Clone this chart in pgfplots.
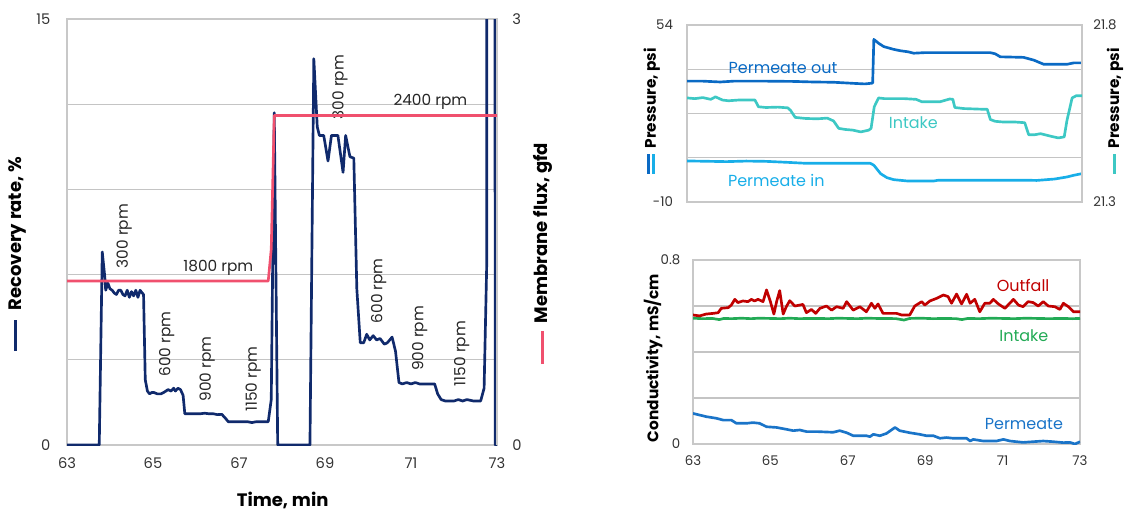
\documentclass[border=0pt]{standalone}
\usepackage{fontspec}
\setmainfont{Poppins}
\usepackage{pgfplots}
\pgfplotsset{compat=1.18}
\definecolor{navy}{HTML}{102A6C}
\definecolor{fluxpink}{HTML}{F0506E}
\definecolor{poutblue}{HTML}{0A6AC4}
\definecolor{tealc}{HTML}{3DC8C4}
\definecolor{pinblue}{HTML}{18AEE8}
\definecolor{outred}{HTML}{C00000}
\definecolor{ingreen}{HTML}{22AA55}
\definecolor{permblue}{HTML}{1A74C8}
\definecolor{gridgray}{HTML}{C4C4C4}
\definecolor{bordergray}{HTML}{C8C8C8}
\definecolor{ticktext}{HTML}{333333}
\definecolor{labeltext}{HTML}{262626}

\pgfplotstableread{
t v
63.00 0
63.75 0
63.82 6.8
63.88 5.9
63.90 5.45
63.95 5.7
64.00 5.5
64.05 5.45
64.10 5.35
64.15 5.3
64.20 5.45
64.25 5.45
64.30 5.3
64.35 5.25
64.40 5.45
64.45 5.2
64.50 5.4
64.55 5.25
64.60 5.45
64.65 5.2
64.70 5.45
64.75 5.35
64.78 5.3
64.82 2.3
64.87 1.9
64.92 1.8
64.97 1.85
65.02 1.85
65.10 1.8
65.18 1.8
65.25 1.85
65.35 1.95
65.42 1.9
65.48 2.0
65.52 1.9
65.58 2.0
65.64 1.95
65.70 1.75
65.74 1.1
65.85 1.1
66.00 1.1
66.10 1.1
66.20 1.12
66.30 1.1
66.40 1.1
66.50 1.07
66.60 1.08
66.68 0.95
66.75 0.82
66.90 0.82
67.05 0.82
67.20 0.82
67.30 0.79
67.40 0.82
67.55 0.82
67.68 0.82
67.75 1.6
67.82 11.7
67.90 0
68.65 0
68.74 13.6
68.82 11.2
68.87 10.9
68.97 10.9
69.07 10.0
69.15 10.9
69.30 10.9
69.42 9.6
69.48 10.9
69.58 10.15
69.67 10.1
69.74 5.5
69.82 3.6
69.90 3.6
69.97 3.9
70.04 3.7
70.12 3.85
70.20 3.7
70.28 3.75
70.38 3.55
70.45 3.6
70.56 3.8
70.64 3.3
70.72 2.2
70.80 2.15
70.90 2.2
71.00 2.15
71.10 2.2
71.20 2.15
71.35 2.15
71.55 2.15
71.62 1.8
71.70 1.6
71.80 1.55
71.90 1.55
72.00 1.55
72.10 1.6
72.20 1.55
72.30 1.6
72.45 1.55
72.62 1.55
72.70 2.0
72.76 6.3
72.80 300
72.96 0
73.00 0
}\recovery

\pgfplotstableread{
t v
63.00 1.155
67.68 1.155
67.75 1.38
67.82 2.32
73.00 2.32
}\flux

\pgfplotstableread{
t v
63.00 33.7
63.40 33.7
63.84 33.4
64.18 33.7
65.00 33.7
65.70 33.6
66.20 33.4
66.71 33.3
67.22 32.9
67.50 32.7
67.64 32.9
67.70 33.0
67.73 48.8
67.85 47.4
67.98 46.2
68.23 45.2
68.40 44.7
68.60 44.3
68.74 43.8
69.00 44.0
70.00 44.0
70.68 44.0
70.80 43.6
70.93 42.5
71.52 42.3
71.78 41.3
72.03 39.8
72.62 39.8
72.79 40.3
73.00 40.3
}\poutdata

\pgfplotstableread{
t v
63.00 21.594
63.20 21.592
63.40 21.595
63.60 21.590
63.72 21.597
63.90 21.588
64.05 21.586
64.30 21.588
64.60 21.588
64.72 21.588
64.81 21.569
65.00 21.567
65.30 21.568
65.55 21.566
65.62 21.559
65.74 21.539
66.00 21.536
66.30 21.535
66.55 21.537
66.71 21.529
66.84 21.508
67.00 21.505
67.20 21.503
67.40 21.498
67.60 21.503
67.66 21.508
67.74 21.569
67.85 21.594
68.00 21.592
68.50 21.592
68.80 21.590
68.95 21.583
69.40 21.583
69.65 21.591
69.73 21.590
69.78 21.567
70.00 21.564
70.50 21.562
70.60 21.562
70.68 21.533
70.80 21.528
71.00 21.526
71.30 21.526
71.55 21.524
71.65 21.490
71.80 21.490
71.95 21.493
72.20 21.486
72.40 21.481
72.55 21.484
72.62 21.531
72.75 21.594
72.85 21.600
73.00 21.600
}\intakep

\pgfplotstableread{
t v
63.00 4.85
64.00 4.6
64.50 4.8
65.00 4.7
65.60 4.3
66.00 4.0
67.00 4.0
67.64 4.0
67.73 3.3
67.90 0.26
68.06 -1.19
68.23 -1.91
68.57 -2.39
69.25 -2.39
69.35 -2.15
71.70 -2.15
71.85 -2.2
72.30 -1.7
72.62 -0.94
72.79 -0.34
73.00 0.26
}\pindata

\pgfplotstableread{
t v
63.00 0.561
63.17 0.557
63.34 0.565
63.52 0.568
63.65 0.571
63.73 0.590
63.91 0.593
63.99 0.604
64.08 0.629
64.16 0.615
64.29 0.622
64.42 0.619
64.51 0.629
64.59 0.622
64.68 0.629
64.81 0.619
64.90 0.670
65.00 0.619
65.09 0.565
65.16 0.619
65.24 0.667
65.33 0.565
65.41 0.597
65.50 0.623
65.63 0.600
65.76 0.604
65.84 0.607
65.93 0.571
66.06 0.585
66.17 0.568
66.28 0.590
66.45 0.600
66.58 0.582
66.71 0.597
66.88 0.590
66.97 0.619
67.14 0.582
67.31 0.597
67.48 0.575
67.61 0.612
67.70 0.590
67.78 0.609
67.91 0.568
68.26 0.568
68.39 0.561
68.60 0.561
68.73 0.600
68.91 0.619
68.99 0.604
69.12 0.622
69.29 0.633
69.47 0.648
69.59 0.641
69.68 0.612
69.81 0.652
69.94 0.609
70.07 0.651
70.16 0.612
70.28 0.629
70.41 0.575
70.54 0.612
70.67 0.612
70.76 0.629
70.89 0.609
71.06 0.590
71.28 0.629
71.41 0.604
71.53 0.597
71.66 0.619
71.79 0.615
71.92 0.600
72.05 0.619
72.18 0.600
72.35 0.597
72.48 0.585
72.57 0.612
72.70 0.597
72.83 0.575
73.00 0.575
}\outfall

\pgfplotstableread{
t v
63.00 0.547
63.25 0.545
63.50 0.546
63.68 0.541
63.80 0.546
64.00 0.545
64.25 0.547
64.50 0.545
64.70 0.547
65.00 0.546
65.25 0.545
65.50 0.547
65.75 0.545
66.00 0.546
66.25 0.546
66.50 0.545
66.75 0.547
67.00 0.546
67.25 0.545
67.50 0.547
67.75 0.546
68.00 0.546
68.25 0.545
68.45 0.539
68.60 0.546
68.90 0.547
69.20 0.545
69.50 0.546
69.80 0.545
69.95 0.541
70.10 0.546
70.40 0.545
70.70 0.547
71.00 0.546
71.30 0.545
71.60 0.547
71.90 0.546
72.20 0.545
72.50 0.546
72.80 0.545
73.00 0.546
}\intakec

\pgfplotstableread{
t v
63.00 0.133
63.17 0.126
63.34 0.119
63.60 0.112
63.78 0.104
63.99 0.104
64.12 0.090
64.38 0.090
64.55 0.093
64.72 0.090
64.90 0.075
65.16 0.072
65.41 0.064
65.59 0.058
65.76 0.061
65.93 0.054
66.19 0.054
66.62 0.051
66.79 0.058
66.97 0.049
67.14 0.036
67.48 0.036
67.57 0.032
67.66 0.042
67.83 0.036
68.00 0.046
68.22 0.072
68.34 0.058
68.60 0.049
68.86 0.042
69.03 0.036
69.21 0.036
69.38 0.025
69.55 0.028
69.72 0.025
70.07 0.025
70.16 0.013
70.24 0.020
70.50 0.013
70.84 0.013
71.02 0.020
71.19 0.013
71.53 0.007
71.79 0.010
72.05 0.013
72.31 0.010
72.57 0.006
72.74 0.007
72.87 0.000
73.00 0.010
}\permc

\begin{document}
\begin{tikzpicture}
\useasboundingbox (0,0) rectangle (847.5pt,384pt);
\pgfplotsset{
  base/.style={scale only axis, xmin=63, xmax=73, clip=true,
    axis line style={draw=bordergray, line width=1.5pt},
    major tick length=0pt,
    tick label style={text=ticktext},
    /pgf/number format/assume math mode=true,
    grid style={draw=gridgray, line width=1pt},
  },
}
% ---------- Left chart ----------
\begin{axis}[base, at={(50.25pt,50.25pt)}, anchor=south west,
  width=322.5pt, height=319.5pt,
  ymin=0, ymax=15, ytick={0,3,6,9,12,15}, yticklabels={0,,,,,15},
  xtick={63,65,67,69,71,73},
  ymajorgrids,
  tick label style={font=\fontsize{11}{13}\selectfont},
  yticklabel style={xshift=-9pt}, xticklabel style={yshift=-6pt}]
\addplot[navy, line width=2pt, line join=round] table[x=t,y=v] {\recovery};
\begin{scope}[every node/.style={font=\fontsize{11.5}{13}\selectfont, text=labeltext}]
\node[rotate=90] at (axis cs:64.33,7.36) {300 rpm};
\node[rotate=90] at (axis cs:65.32,3.55) {600 rpm};
\node[rotate=90] at (axis cs:66.26,2.67) {900 rpm};
\node[rotate=90] at (axis cs:67.33,2.32) {1150 rpm};
\node at (axis cs:66.52,6.25) {1800 rpm};
\node[rotate=90] at (axis cs:69.35,12.6) {300 rpm};
\node at (axis cs:71.45,12.1) {2400 rpm};
\node[rotate=90] at (axis cs:70.25,5.43) {600 rpm};
\node[rotate=90] at (axis cs:71.2,3.75) {900 rpm};
\node[rotate=90] at (axis cs:72.18,3.22) {1150 rpm};
\end{scope}
\end{axis}
\begin{axis}[base, at={(50.25pt,50.25pt)}, anchor=south west,
  width=322.5pt, height=319.5pt,
  ymin=0, ymax=3, ytick={0,3}, yticklabels={0,3},
  axis y line*=right, axis x line=none,
  tick label style={font=\fontsize{11}{13}\selectfont},
  yticklabel style={xshift=8pt}]
\addplot[fluxpink, line width=2pt, line join=round] table[x=t,y=v] {\flux};
\end{axis}

% ---------- Top right chart ----------
\begin{axis}[base, at={(515.25pt,232.5pt)}, anchor=south west,
  width=296.25pt, height=132.75pt,
  ymin=-10, ymax=54, ytick={-10,6,22,38,54}, yticklabels={-10,,,,54},
  xtick=\empty, ymajorgrids,
  tick label style={font=\fontsize{10}{12}\selectfont},
  yticklabel style={xshift=-7pt}]
\addplot[poutblue, line width=2pt, line join=round] table[x=t,y=v] {\poutdata};
\addplot[pinblue, line width=2pt, line join=round] table[x=t,y=v] {\pindata};
\node[font=\fontsize{12}{14}\selectfont, text=poutblue] at (axis cs:65.43,38.5) {Permeate out};
\node[font=\fontsize{12}{14}\selectfont, text=tealc] at (axis cs:68.73,18.6) {Intake};
\node[font=\fontsize{12}{14}\selectfont, text=pinblue] at (axis cs:65.26,-2.3) {Permeate in};
\end{axis}
\begin{axis}[base, at={(515.25pt,232.5pt)}, anchor=south west,
  width=296.25pt, height=132.75pt,
  ymin=21.3, ymax=21.8, ytick={21.3,21.8}, yticklabels={21.3,21.8},
  axis y line*=right, axis x line=none,
  tick label style={font=\fontsize{10}{12}\selectfont},
  yticklabel style={xshift=5pt}]
\addplot[tealc, line width=2pt, line join=round] table[x=t,y=v] {\intakep};
\end{axis}

% ---------- Bottom right chart ----------
\begin{axis}[base, at={(519.75pt,51pt)}, anchor=south west,
  width=290.25pt, height=138pt,
  ymin=0, ymax=0.8, ytick={0,0.2,0.4,0.6,0.8}, yticklabels={0,,,,0.8},
  xtick={63,65,67,69,71,73}, ymajorgrids,
  tick label style={font=\fontsize{10}{12}\selectfont},
  yticklabel style={xshift=-6pt}, xticklabel style={yshift=-5pt}]
\addplot[ingreen, line width=2pt, line join=round] table[x=t,y=v] {\intakec};
\addplot[outred, line width=2pt, line join=round] table[x=t,y=v] {\outfall};
\addplot[permblue, line width=2pt, line join=round] table[x=t,y=v] {\permc};
\node[font=\fontsize{12}{14}\selectfont, text=outred] at (axis cs:71.53,0.691) {Outfall};
\node[font=\fontsize{12}{14}\selectfont, text=ingreen] at (axis cs:71.55,0.47) {Intake};
\node[font=\fontsize{12}{14}\selectfont, text=permblue] at (axis cs:71.55,0.086) {Permeate};
\end{axis}

% ---------- Axis titles ----------
\node[rotate=90, font=\fontsize{13.5}{16}\selectfont\bfseries, text=black] at (12.75pt,193.5pt)
  {{\color{navy}\rule[0.2em]{23pt}{2.25pt}}\hspace{7.5pt}Recovery rate, \%};
\node[rotate=90, font=\fontsize{13.5}{16}\selectfont\bfseries, text=black] at (407.25pt,193.9pt)
  {{\color{fluxpink}\rule[0.2em]{24.75pt}{2.25pt}}\hspace{6pt}Membrane flux, gfd};
\node[font=\fontsize{13.5}{16}\selectfont\bfseries, text=black] at (212pt,9pt) {Time, min};
\node[rotate=90, font=\fontsize{11.5}{14}\selectfont\bfseries, text=black] at (488.75pt,300.75pt)
  {\rlap{\color{poutblue}\rule[0.38em]{15pt}{2pt}}{\color{pinblue}\rule[0.08em]{15pt}{2pt}}\hspace{4pt}Pressure, psi};
\node[rotate=90, font=\fontsize{11.5}{14}\selectfont\bfseries, text=black] at (836.25pt,300.75pt)
  {{\color{tealc}\rule[0.2em]{15pt}{2pt}}\hspace{4pt}Pressure, psi};
\node[rotate=90, font=\fontsize{11.5}{14}\selectfont\bfseries, text=black] at (489.75pt,115.5pt)
  {Conductivity, mS/cm};
\end{tikzpicture}
\end{document}
